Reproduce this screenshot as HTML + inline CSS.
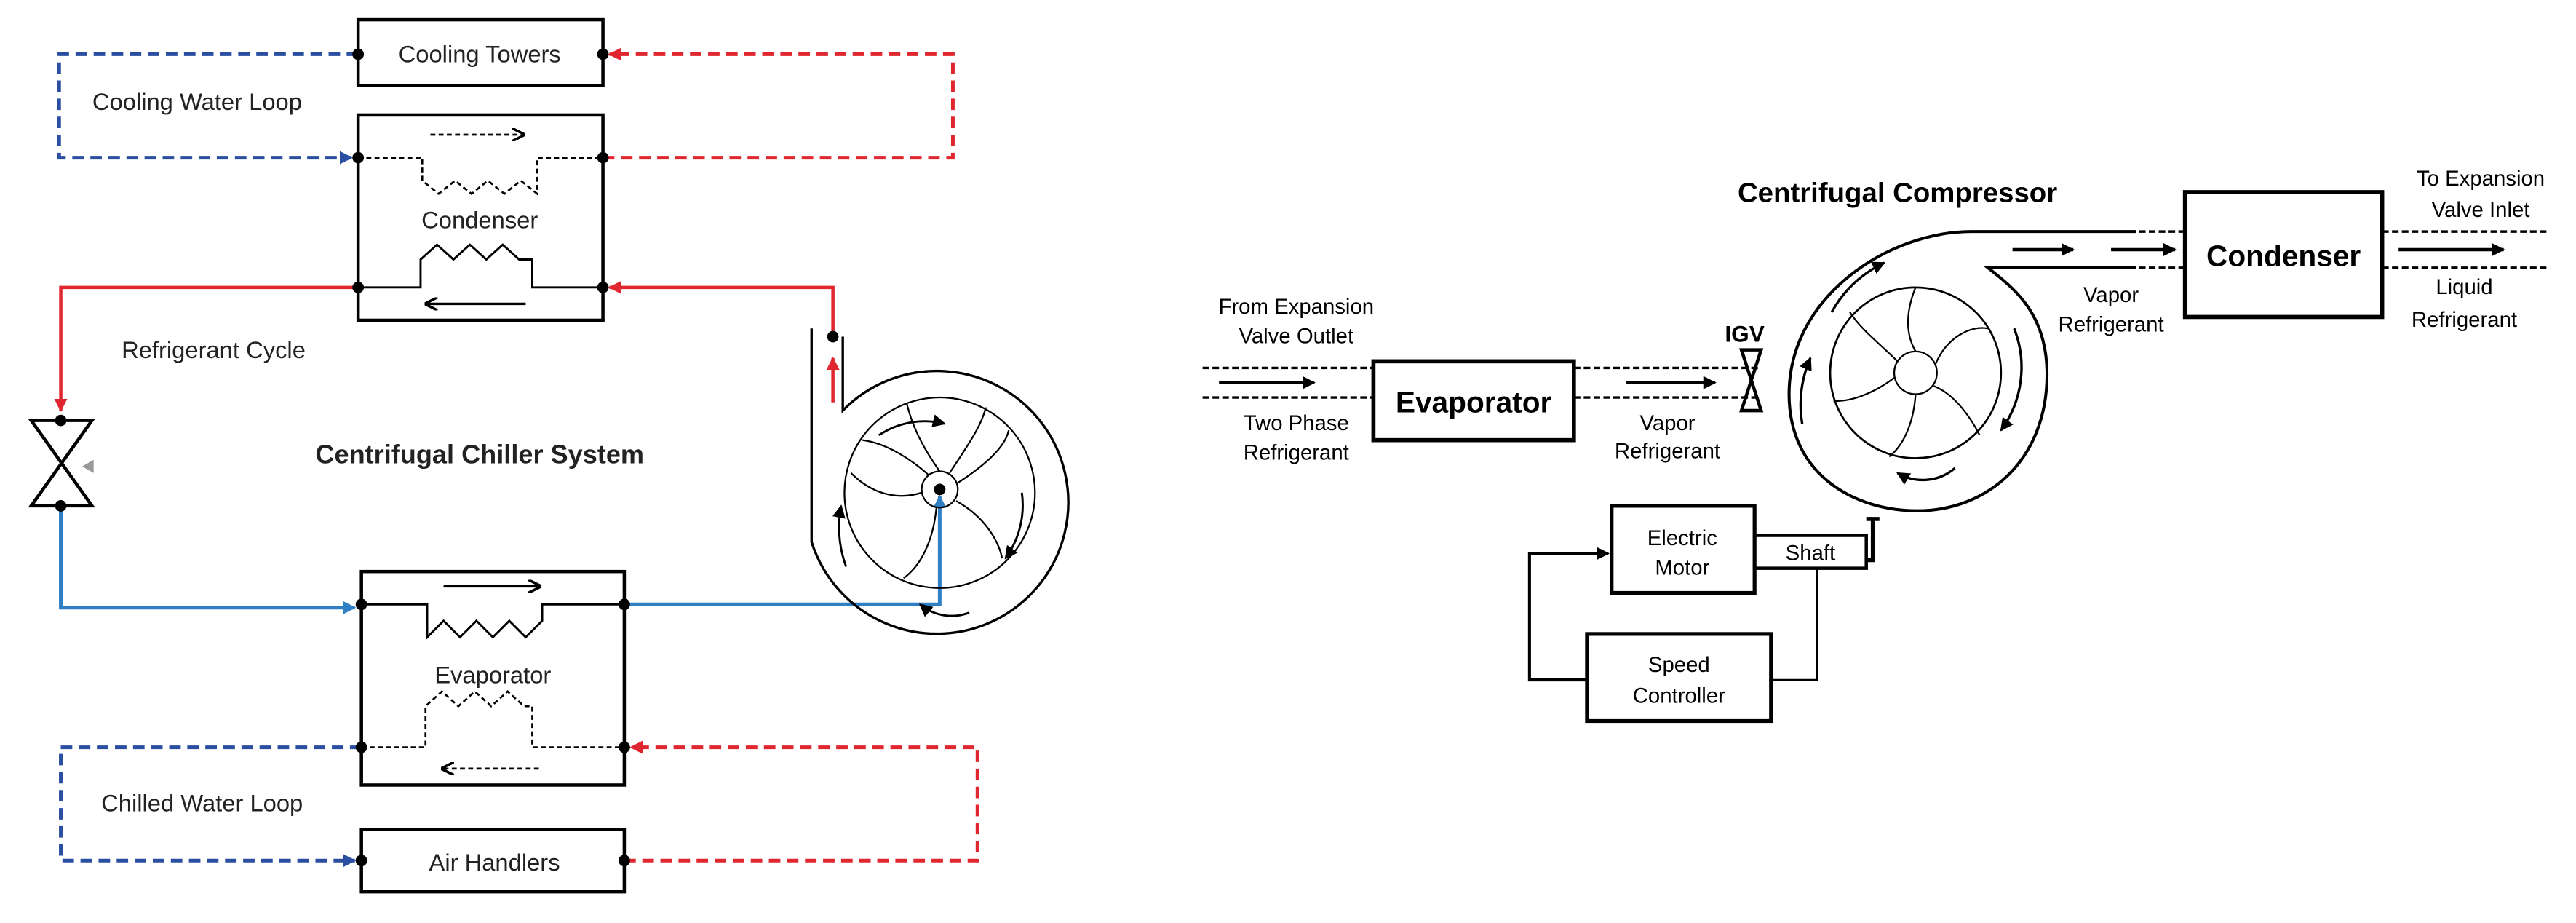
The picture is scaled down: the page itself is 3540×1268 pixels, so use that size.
<!DOCTYPE html>
<html><head><meta charset="utf-8"><style>html,body{margin:0;padding:0;background:#fff}svg{display:block}</style></head><body>
<svg width="3540" height="1268" viewBox="0 0 1568 562" preserveAspectRatio="none" xmlns="http://www.w3.org/2000/svg" font-family="Liberation Sans, Arial, sans-serif">
<defs>
<marker id="ab" viewBox="0 0 10 10" refX="9" refY="5" markerUnits="userSpaceOnUse" markerWidth="8" markerHeight="8" orient="auto"><path d="M0,0L10,5L0,10z" fill="#2a4fa0"/></marker>
<marker id="ar" viewBox="0 0 10 10" refX="9" refY="5" markerUnits="userSpaceOnUse" markerWidth="8" markerHeight="8" orient="auto"><path d="M0,0L10,5L0,10z" fill="#e0262e"/></marker>
<marker id="al" viewBox="0 0 10 10" refX="9" refY="5" markerUnits="userSpaceOnUse" markerWidth="8" markerHeight="8" orient="auto"><path d="M0,0L10,5L0,10z" fill="#2e7fc4"/></marker>
<marker id="ak" viewBox="0 0 10 10" refX="8" refY="5" markerUnits="userSpaceOnUse" markerWidth="8" markerHeight="8" orient="auto"><path d="M0,0L10,5L0,10" fill="none" stroke="#000" stroke-width="2"/></marker>
<marker id="akf" viewBox="0 0 10 10" refX="9" refY="5" markerUnits="userSpaceOnUse" markerWidth="8" markerHeight="8" orient="auto"><path d="M0,0L10,5L0,10z" fill="#000"/></marker>
</defs>
<g fill="none" stroke-width="2">
<rect x="218" y="12" width="149" height="40" stroke="#000"/>
<rect x="218" y="70" width="149" height="125" stroke="#000"/>
<rect x="220" y="348" width="160" height="130" stroke="#000"/>
<rect x="220" y="505" width="160" height="38" stroke="#000"/>
<path d="M218,33H36V96H214" stroke="#2a4fa0" stroke-width="2.2" stroke-dasharray="7,4" marker-end="url(#ab)"/>
<path d="M367,96H580V33H371" stroke="#e0262e" stroke-width="2.2" stroke-dasharray="7,4" marker-end="url(#ar)"/>
<path d="M218,96H257V110l10,8l10,-8l10,8l10,-8l10,8l10,-8l10,8V96H367" stroke="#000" stroke-width="1.2" stroke-dasharray="3,2"/>
<path d="M262,82H318" stroke="#000" stroke-width="1.2" stroke-dasharray="3,2" marker-end="url(#ak)"/>
<path d="M218,175H256V158l10,-9l10,9l10,-9l10,9l10,-9l10,9l8,0V175H367" stroke="#000" stroke-width="1.3"/>
<path d="M320,185H260" stroke="#000" stroke-width="1.5" marker-end="url(#ak)"/>
<path d="M218,175H37V250" stroke="#e0262e" marker-end="url(#ar)"/>
<path d="M507,205V175H371" stroke="#e0262e" marker-end="url(#ar)"/>
<path d="M507,245V218" stroke="#e0262e" marker-end="url(#ar)"/>
<path d="M19,256H56L19,308H56Z" stroke="#000"/>
<path d="M37,308V370H216" stroke="#2e7fc4" stroke-width="2.2" marker-end="url(#al)"/>
<path d="M220,368H260V388l10,-10l10,10l10,-10l10,10l10,-10l10,10l10,-10V368H380" stroke="#000" stroke-width="1.3"/>
<path d="M270,357H328" stroke="#000" stroke-width="1.5" marker-end="url(#ak)"/>
<path d="M220,455H259V430l10,-9l10,9l10,-9l10,9l10,-9l10,9l5,0V455H380" stroke="#000" stroke-width="1.2" stroke-dasharray="3,2"/>
<path d="M328,468H270" stroke="#000" stroke-width="1.2" stroke-dasharray="3,2" marker-end="url(#ak)"/>
<path d="M380,368H572V302" stroke="#2e7fc4" stroke-width="2.2" marker-end="url(#al)"/>
<path d="M220,455H37V524H216" stroke="#2a4fa0" stroke-width="2.2" stroke-dasharray="7,4" marker-end="url(#ab)"/>
<path d="M380,524H595V455H384" stroke="#e0262e" stroke-width="2.2" stroke-dasharray="7,4" marker-end="url(#ar)"/>
<path d="M494,200V330A80,80 0 1 0 513,250V205" stroke="#000" stroke-width="1.5"/>
<circle cx="572" cy="300" r="58" stroke="#000" stroke-width="1"/>
<circle cx="572" cy="298" r="11" stroke="#000" stroke-width="1"/>
<g stroke="#000" stroke-width="1">
<path d="M572,287C560,270 555,258 552,246"/><path d="M583,294C600,283 612,272 614,262"/><path d="M582,305C600,315 608,330 610,340"/><path d="M570,309C568,330 560,345 550,352"/><path d="M561,300C545,305 530,300 518,288"/><path d="M565,289C555,280 540,270 525,268"/><path d="M578,288C590,270 598,258 600,248"/>
</g>
<path d="M535,265A50,50 0 0 1 575,258" stroke="#000" stroke-width="1.3" marker-end="url(#akf)"/>
<path d="M622,300A55,55 0 0 1 612,340" stroke="#000" stroke-width="1.3" marker-end="url(#akf)"/>
<path d="M590,373A30,30 0 0 1 560,368" stroke="#000" stroke-width="1.3" marker-end="url(#akf)"/>
<path d="M515,345A70,70 0 0 1 512,308" stroke="#000" stroke-width="1.3" marker-end="url(#akf)"/>
<rect x="836" y="220" width="122" height="48" stroke="#000" stroke-width="2.5"/>
<rect x="1330" y="117" width="120" height="76" stroke="#000" stroke-width="2.5"/>
<rect x="981" y="308" width="87" height="53" stroke="#000" stroke-width="2.3"/>
<rect x="1068" y="326" width="68" height="20" stroke="#000" stroke-width="2"/>
<rect x="966" y="386" width="112" height="53" stroke="#000" stroke-width="2.3"/>
<g stroke="#000" stroke-width="1.5" stroke-dasharray="4,2">
<path d="M732,224H836M732,242H836M958,224H1070M958,242H1070M1290,141H1330M1290,163H1330M1450,141H1550M1450,163H1550"/>
</g>
<g stroke="#000" stroke-width="2" marker-end="url(#akf)">
<path d="M742,233H800"/><path d="M990,233H1044"/><path d="M1225,152H1262"/><path d="M1285,152H1324"/><path d="M1460,152H1524"/>
</g>
<path d="M1060,213H1072L1060,250H1072Z" stroke="#000" stroke-width="2"/>
<path d="M1300,141H1200C1150,141 1089,180 1089,240C1089,290 1130,311 1167,311C1210,311 1246,280 1246,228C1246,190 1225,175 1210,163H1300" stroke="#000" stroke-width="1.8"/>
<circle cx="1166" cy="227" r="52" stroke="#000" stroke-width="1.2"/>
<circle cx="1166" cy="227" r="13" stroke="#000" stroke-width="1"/>
<g stroke="#000" stroke-width="1">
<path d="M1166,214C1158,200 1162,185 1166,175"/><path d="M1178,222C1185,205 1200,198 1210,200"/><path d="M1177,235C1190,240 1200,255 1205,265"/><path d="M1166,240C1165,255 1160,270 1150,278"/><path d="M1153,230C1140,240 1125,245 1116,244"/><path d="M1155,220C1145,210 1132,200 1126,190"/>
</g>
<path d="M1115,190A70,70 0 0 1 1147,160" stroke="#000" stroke-width="1.5" marker-end="url(#akf)"/>
<path d="M1226,200A65,65 0 0 1 1218,262" stroke="#000" stroke-width="1.5" marker-end="url(#akf)"/>
<path d="M1190,285A30,30 0 0 1 1155,288" stroke="#000" stroke-width="1.5" marker-end="url(#akf)"/>
<path d="M1097,258A70,70 0 0 1 1102,218" stroke="#000" stroke-width="1.5" marker-end="url(#akf)"/>
<path d="M1136,341H1140V316M1136,316H1144" stroke="#000" stroke-width="2.5"/>
<path d="M966,414H931V337H979" stroke="#000" stroke-width="1.8" marker-end="url(#akf)"/>
<path d="M1106,346V414H1078" stroke="#000" stroke-width="1.2"/>
</g>
<g fill="#000" stroke="none">
<circle cx="218" cy="33" r="3.5"/><circle cx="367" cy="33" r="3.5"/><circle cx="218" cy="96" r="3.5"/><circle cx="367" cy="96" r="3.5"/>
<circle cx="218" cy="175" r="3.5"/><circle cx="367" cy="175" r="3.5"/><circle cx="507" cy="205" r="3.5"/>
<circle cx="37" cy="256" r="3.5"/><circle cx="37" cy="308" r="3.5"/>
<circle cx="220" cy="368" r="3.5"/><circle cx="380" cy="368" r="3.5"/><circle cx="220" cy="455" r="3.5"/><circle cx="380" cy="455" r="3.5"/>
<circle cx="220" cy="524" r="3.5"/><circle cx="380" cy="524" r="3.5"/><circle cx="572" cy="298" r="3.5"/>
<path d="M50,284L57,280V288Z" fill="#999"/>
</g>
<g fill="#222" font-size="14.5" text-anchor="middle">
<text x="292" y="38">Cooling Towers</text>
<text x="120" y="67">Cooling Water Loop</text>
<text x="292" y="139">Condenser</text>
<text x="130" y="218">Refrigerant Cycle</text>
<text x="300" y="416">Evaporator</text>
<text x="123" y="494">Chilled Water Loop</text>
<text x="301" y="530">Air Handlers</text>
<text x="292" y="282" font-weight="bold" font-size="16">Centrifugal Chiller System</text>
</g>
<g fill="#000" font-size="13" text-anchor="middle">
<text x="1155" y="123" font-weight="bold" font-size="17">Centrifugal Compressor</text>
<text x="897" y="251" font-weight="bold" font-size="18">Evaporator</text>
<text x="1390" y="162" font-weight="bold" font-size="18">Condenser</text>
<text x="1062" y="208" font-weight="bold" font-size="14">IGV</text>
<text x="789" y="191">From Expansion</text><text x="789" y="209">Valve Outlet</text>
<text x="789" y="262">Two Phase</text><text x="789" y="280">Refrigerant</text>
<text x="1015" y="262">Vapor</text><text x="1015" y="279">Refrigerant</text>
<text x="1285" y="184">Vapor</text><text x="1285" y="202">Refrigerant</text>
<text x="1510" y="113">To Expansion</text><text x="1510" y="132">Valve Inlet</text>
<text x="1500" y="179">Liquid</text><text x="1500" y="199">Refrigerant</text>
<text x="1024" y="332">Electric</text><text x="1024" y="350">Motor</text>
<text x="1102" y="341">Shaft</text>
<text x="1022" y="409">Speed</text><text x="1022" y="428">Controller</text>
</g>
</svg>
</body></html>
